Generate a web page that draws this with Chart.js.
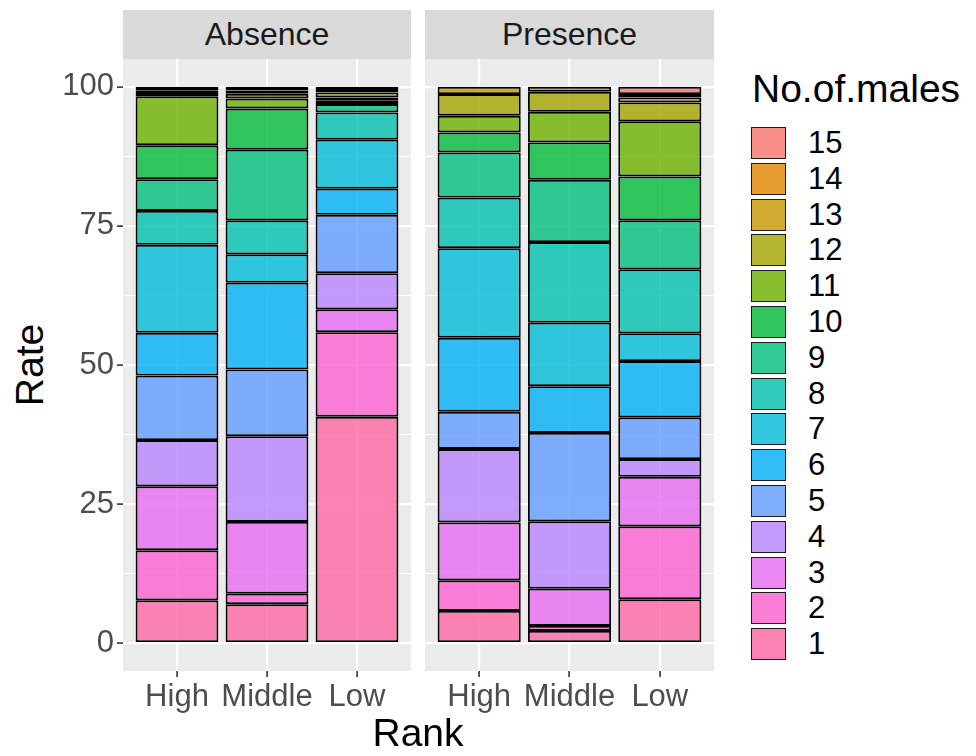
<!DOCTYPE html>
<html>
<head>
<meta charset="utf-8">
<script src="https://cdn.jsdelivr.net/npm/chart.js@4.4.0/dist/chart.umd.min.js"></script>
<style>
  body { margin: 0; background: #fff; font-family: 'Liberation Sans', Arial, sans-serif; }
  #wrap { position: relative; width: 976px; height: 756px; overflow: hidden; }
  canvas { position: absolute; }
  .strip { position: absolute; top: 10px; height: 49px; line-height: 49px; background: #D9D9D9;
           color: #1A1A1A; font-size: 32px; text-align: center; }
  .axtitle { position: absolute; font-size: 39px; color: #000; white-space: nowrap; }
  .key { position: absolute; left: 751px; width: 35px; height: 32px; background: #F2F2F2; }
  .key div { width: 100%; height: 100%; box-sizing: border-box; border: 1.5px solid #1a1a1a; }
  .klab { position: absolute; left: 808px; font-size: 31px; line-height: 32px; color: #000; }
</style>
</head>
<body>
<div id="wrap">
  <div class="strip" style="left:123px;width:288px">Absence</div>
  <div class="strip" style="left:425px;width:289px">Presence</div>
  <canvas id="absence" width="351" height="660" style="left:60px;top:59px"></canvas>
  <canvas id="presence" width="289" height="660" style="left:425px;top:59px"></canvas>
  <div class="axtitle" style="left:30px;top:365px;transform:translate(-50%,-50%) rotate(-90deg)">Rate</div>
  <div class="axtitle" style="left:418px;top:733px;transform:translate(-50%,-50%)">Rank</div>
  <div class="axtitle" style="left:752px;top:89px;transform:translateY(-50%)">No.of.males</div>
  <div id="legend"></div>
</div>
<script>
// categories and tick values
const ranks = ['High', 'Middle', 'Low']
const levels = [1, 2, 3, 4, 5, 6, 7, 8, 9, 10, 11, 12, 13, 14, 15]
const gridY = [0, 12.5, 25, 37.5, 50, 62.5, 75, 87.5, 100]

// share (%) of each No.of.males level, 1 -> 15, per bar
const absenceHigh    = [7.7, 9.0, 11.5, 8.3, 11.6, 7.7, 15.8, 6.1, 5.7, 6.1, 8.8, 0.6, 0.5, 0.6, 0]
const absenceMiddle  = [7.0, 1.9, 12.9, 15.4, 12.0, 15.6, 5.1, 6.1, 12.7, 7.4, 1.8, 0.85, 0.6, 0.65, 0]
const absenceLow     = [40.7, 15.2, 4.1, 6.5, 10.5, 4.7, 8.8, 4.9, 1.5, 0.6, 0.6, 0.9, 0.6, 0.4, 0]
const presenceHigh   = [5.8, 5.5, 10.4, 13.2, 6.7, 13.3, 16.1, 9.1, 8.1, 3.6, 3.0, 3.9, 1.3, 0, 0]
const presenceMiddle = [2.2, 0.9, 6.7, 12.1, 15.9, 8.4, 11.4, 14.5, 11.2, 6.7, 5.5, 3.6, 0.9, 0, 0]
const presenceLow    = [7.9, 13.1, 8.9, 3.2, 7.5, 10.1, 5.0, 11.5, 8.8, 7.9, 9.9, 3.4, 0.9, 0.6, 1.3]

// ggplot hue palette, level 1 -> 15
const palette = ['#FF67A4', '#FD61D1', '#E76BF3', '#B983FF', '#619CFF', '#00B0F6', '#00BCD8',
  '#00C0AF', '#00BF7D', '#00BA38', '#6BB100', '#A3A500', '#C99800', '#E58700', '#F8766D']

function withAlpha(hex, a) {
  const n = parseInt(hex.slice(1), 16)
  return `rgba(${n >> 16}, ${(n >> 8) & 255}, ${n & 255}, ${a})`
}

Chart.defaults.font.family = "'Liberation Sans', Arial, sans-serif"

const panelBg = {
  id: 'panelBg',
  beforeDraw(chart) {
    const { ctx, chartArea: a } = chart
    ctx.save()
    ctx.fillStyle = '#EBEBEB'
    ctx.fillRect(a.left, a.top, a.right - a.left, a.bottom - a.top)
    ctx.restore()
  }
}

const isMajor = (c) => c.tick && c.tick.value % 25 === 0

function makePanel(id, bars, showY) {
  const datasets = levels.map((lv, i) => ({
    label: String(lv),
    data: bars.map((b, j) => ({ x: j + 1, y: b[i] || null })),
    backgroundColor: withAlpha(palette[i], 0.8),
    borderColor: '#000',
    borderWidth: 1.9,
    borderSkipped: false,
    categoryPercentage: 1,
    barPercentage: 0.92
  }))

  return new Chart(document.getElementById(id), {
    type: 'bar',
    data: { datasets },
    plugins: [panelBg],
    options: {
      responsive: false,
      animation: false,
      devicePixelRatio: 1,
      layout: { padding: 0 },
      plugins: { legend: { display: false }, tooltip: { enabled: false } },
      scales: {
        x: {
          type: 'linear', min: 0.4, max: 3.6, stacked: true, offset: false,
          afterBuildTicks: (s) => { s.ticks = ranks.map((r, i) => ({ value: i + 1 })) },
          afterFit: (s) => { s.height = 48; s.paddingLeft = 0; s.paddingRight = 0 },
          ticks: {
            callback: (v) => ranks[v - 1], autoSkip: false, maxRotation: 0, minRotation: 0,
            color: '#4D4D4D', font: { size: 31 }, padding: 2
          },
          grid: { offset: false, color: '#fff', lineWidth: 2.2, tickLength: 6, tickColor: '#333', tickWidth: 1.6 },
          border: { display: false }
        },
        y: {
          type: 'linear', min: -5, max: 105, stacked: true,
          afterBuildTicks: (s) => { s.ticks = gridY.map((v) => ({ value: v })) },
          afterFit: (s) => { s.width = showY ? 63 : 0; s.paddingTop = 0; s.paddingBottom = 0 },
          ticks: {
            display: showY, callback: (v) => (v % 25 === 0 ? String(v) : ''),
            color: '#4D4D4D', font: { size: 31 }, padding: 3
          },
          grid: {
            color: '#fff',
            lineWidth: (c) => (isMajor(c) ? 2.2 : 1.1),
            drawTicks: showY, tickLength: 6, tickWidth: 1.6,
            tickColor: (c) => (isMajor(c) ? '#333' : 'rgba(0,0,0,0)')
          },
          border: { display: false }
        }
      }
    }
  })
}

makePanel('absence', [absenceHigh, absenceMiddle, absenceLow], true)
makePanel('presence', [presenceHigh, presenceMiddle, presenceLow], false)

// legend, 15 at the top
const legend = document.getElementById('legend')
levels.slice().reverse().forEach((lv, k) => {
  const top = 127 + k * 35.8
  const key = document.createElement('div')
  key.className = 'key'
  key.style.top = top + 'px'
  const sw = document.createElement('div')
  sw.style.background = withAlpha(palette[lv - 1], 0.8)
  key.appendChild(sw)
  legend.appendChild(key)
  const lab = document.createElement('div')
  lab.className = 'klab'
  lab.style.top = top + 'px'
  lab.textContent = String(lv)
  legend.appendChild(lab)
})
</script>
</body>
</html>
